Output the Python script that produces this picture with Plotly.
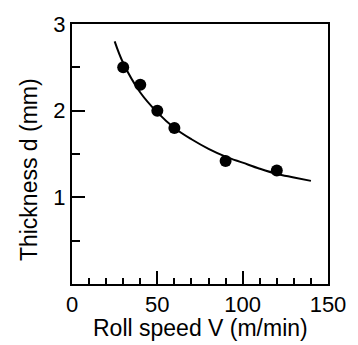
import plotly.graph_objects as go

# Measured points
speed = [30, 40, 50, 60, 90, 120]
thickness = [2.5, 2.3, 2.0, 1.8, 1.42, 1.31]

# Fitted curve
curve_speed = [25, 30, 40, 50, 60, 70, 80, 90, 100, 110, 120, 130, 140]
curve_thick = [2.80, 2.55, 2.21, 1.98, 1.80, 1.67, 1.56, 1.47, 1.40, 1.33, 1.27, 1.23, 1.19]

x_ticks = [0, 50, 100, 150]
y_ticks = [1, 2, 3]
x_title = "Roll speed V (m/min)"
y_title = "Thickness d (mm)"

fig = go.Figure()
fig.add_trace(go.Scatter(x=curve_speed, y=curve_thick, mode="lines",
                         line=dict(color="black", width=2, shape="spline"),
                         hoverinfo="skip", showlegend=False))
fig.add_trace(go.Scatter(x=speed, y=thickness, mode="markers",
                         marker=dict(color="black", size=12),
                         showlegend=False))

tickfont = dict(family="Liberation Sans Narrow, Liberation Sans, Arial", size=22, color="black")
fig.update_layout(
    width=358, height=345,
    margin=dict(l=72, r=22, t=16, b=61),
    paper_bgcolor="white", plot_bgcolor="white",
    xaxis=dict(range=[0, 150], tickvals=x_ticks, ticks="inside", ticklen=13, tickwidth=2,
               tickcolor="black", showline=True, linecolor="black", linewidth=2, mirror=True,
               showgrid=False, zeroline=False, tickfont=tickfont,
               minor=dict(dtick=10, ticks="inside", ticklen=6, tickwidth=1.5, tickcolor="black", showgrid=False)),
    yaxis=dict(range=[0, 3], tickvals=y_ticks, ticks="inside", ticklen=13, tickwidth=2,
               tickcolor="black", showline=True, linecolor="black", linewidth=2, mirror=True,
               showgrid=False, zeroline=False, tickfont=tickfont,
               minor=dict(dtick=0.5, ticks="inside", ticklen=8, tickwidth=1.5, tickcolor="black", showgrid=False)),
    annotations=[
        dict(text=x_title, xref="paper", yref="paper", x=0.5, y=-0.168, xanchor="center", yanchor="middle",
             showarrow=False, font=dict(family="Liberation Sans, Arial", size=23, color="black")),
        dict(text=y_title, xref="paper", yref="paper", x=-0.17, y=0.44, xanchor="center", yanchor="middle",
             textangle=-90, showarrow=False, font=dict(family="Liberation Sans, Arial", size=23, color="black")),
    ],
)

fig.write_html("out.html")
